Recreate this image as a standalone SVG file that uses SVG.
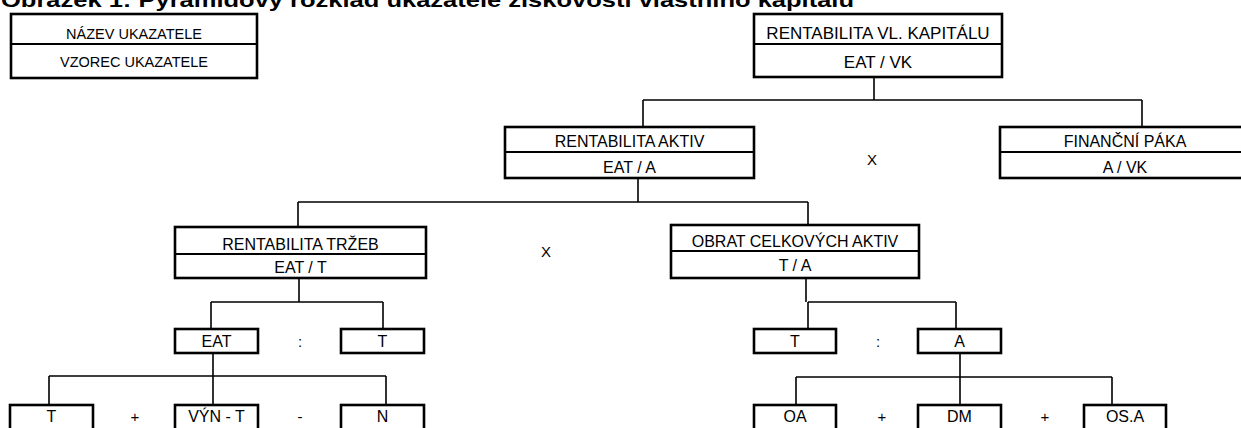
<svg xmlns="http://www.w3.org/2000/svg" width="1241" height="428" viewBox="0 0 1241 428">
<style>
  .box{fill:#fff;stroke:#000;stroke-width:2.6}
  .div{stroke:#000;stroke-width:2}
  .t{font-family:"Liberation Sans",Arial,sans-serif;font-size:16px;fill:#000;text-anchor:middle}
  .lg{font-size:14.5px}
  .big{font-size:17px}
  .op{font-family:"Liberation Sans",Arial,sans-serif;font-size:15px;fill:#000;text-anchor:middle}
  .title{font-family:"Liberation Sans",Arial,sans-serif;font-size:20px;font-weight:bold;fill:#000}
  .conn{fill:none;stroke:#000;stroke-width:1.6}
</style>
<rect width="1241" height="428" fill="#fff"/>
<text class="title" x="1" y="7" textLength="853" lengthAdjust="spacingAndGlyphs">Obrázek 1: Pyramidový rozklad ukazatele ziskovosti vlastního kapitálu</text>

<g id="connectors" class="conn">
  <path d="M874 77V100M643 100H1142M643 100V127M1142 100V127"/>
  <path d="M638 178V202M298 202H808M298 202V227M808 202V225"/>
  <path d="M299 278V302M211 302H383M211 302V329M383 302V329"/>
  <path d="M213 353V376M49 376H386M49 376V405M213 376V405M386 376V405"/>
  <path d="M806 278V302M808 302H956M808 302V329M956 302V329"/>
  <path d="M960 353V377M796 377H1112M796 377V405M960 377V405M1112 377V405"/>
</g>

<g id="legend">
  <rect class="box" x="11" y="14" width="246" height="64"/>
  <line class="div" x1="11" y1="44" x2="257" y2="44"/>
  <text class="t lg" x="134" y="39">NÁZEV UKAZATELE</text>
  <text class="t lg" x="134" y="67">VZOREC UKAZATELE</text>
</g>

<g id="rentabilita-vk">
  <rect class="box" x="754" y="14" width="248" height="63"/>
  <line class="div" x1="754" y1="44" x2="1002" y2="44"/>
  <text class="t big" x="878" y="39">RENTABILITA VL. KAPITÁLU</text>
  <text class="t big" x="878" y="68">EAT / VK</text>
</g>

<g id="rentabilita-aktiv">
  <rect class="box" x="505" y="127" width="249" height="51"/>
  <line class="div" x1="505" y1="152" x2="754" y2="152"/>
  <text class="t" x="629.5" y="147">RENTABILITA AKTIV</text>
  <text class="t" x="629.5" y="173">EAT / A</text>
</g>

<text class="op" x="872" y="165">X</text>

<g id="financni-paka">
  <rect class="box" x="1000" y="127" width="250" height="51"/>
  <line class="div" x1="1000" y1="152" x2="1250" y2="152"/>
  <text class="t" x="1125" y="147">FINANČNÍ PÁKA</text>
  <text class="t" x="1125" y="173">A / VK</text>
</g>

<g id="rentabilita-trzeb">
  <rect class="box" x="175" y="227" width="251" height="51"/>
  <line class="div" x1="175" y1="254" x2="426" y2="254"/>
  <text class="t" x="300.5" y="250">RENTABILITA TRŽEB</text>
  <text class="t" x="300.5" y="273">EAT / T</text>
</g>

<text class="op" x="546" y="257">X</text>

<g id="obrat-aktiv">
  <rect class="box" x="671" y="225" width="248" height="53"/>
  <line class="div" x1="671" y1="251" x2="919" y2="251"/>
  <text class="t" x="795" y="247">OBRAT CELKOVÝCH AKTIV</text>
  <text class="t" x="795" y="271">T / A</text>
</g>

<g id="eat">
  <rect class="box" x="175" y="329" width="83" height="24"/>
  <text class="t" x="216.5" y="347">EAT</text>
</g>
<text class="op" x="300" y="347">:</text>
<g id="t-trzby">
  <rect class="box" x="341" y="329" width="83" height="24"/>
  <text class="t" x="382.5" y="347">T</text>
</g>

<g id="t-obrat">
  <rect class="box" x="754" y="329" width="82" height="24"/>
  <text class="t" x="795" y="347">T</text>
</g>
<text class="op" x="878" y="347">:</text>
<g id="a-obrat">
  <rect class="box" x="918" y="329" width="83" height="24"/>
  <text class="t" x="959.5" y="347">A</text>
</g>

<g id="t-bottom">
  <rect class="box" x="10" y="405" width="83" height="30"/>
  <text class="t" x="51.5" y="422">T</text>
</g>
<text class="op" x="135" y="422">+</text>
<g id="vyn-t">
  <rect class="box" x="175" y="405" width="83" height="30"/>
  <text class="t" x="216.5" y="422">VÝN - T</text>
</g>
<text class="op" x="300" y="422">-</text>
<g id="n">
  <rect class="box" x="341" y="405" width="83" height="30"/>
  <text class="t" x="382.5" y="422">N</text>
</g>

<g id="oa">
  <rect class="box" x="754" y="405" width="82" height="30"/>
  <text class="t" x="795" y="422">OA</text>
</g>
<text class="op" x="882" y="422">+</text>
<g id="dm">
  <rect class="box" x="918" y="405" width="83" height="30"/>
  <text class="t" x="959.5" y="422">DM</text>
</g>
<text class="op" x="1045" y="422">+</text>
<g id="os-a">
  <rect class="box" x="1084" y="405" width="82" height="30"/>
  <text class="t" x="1125" y="422">OS.A</text>
</g>
</svg>
